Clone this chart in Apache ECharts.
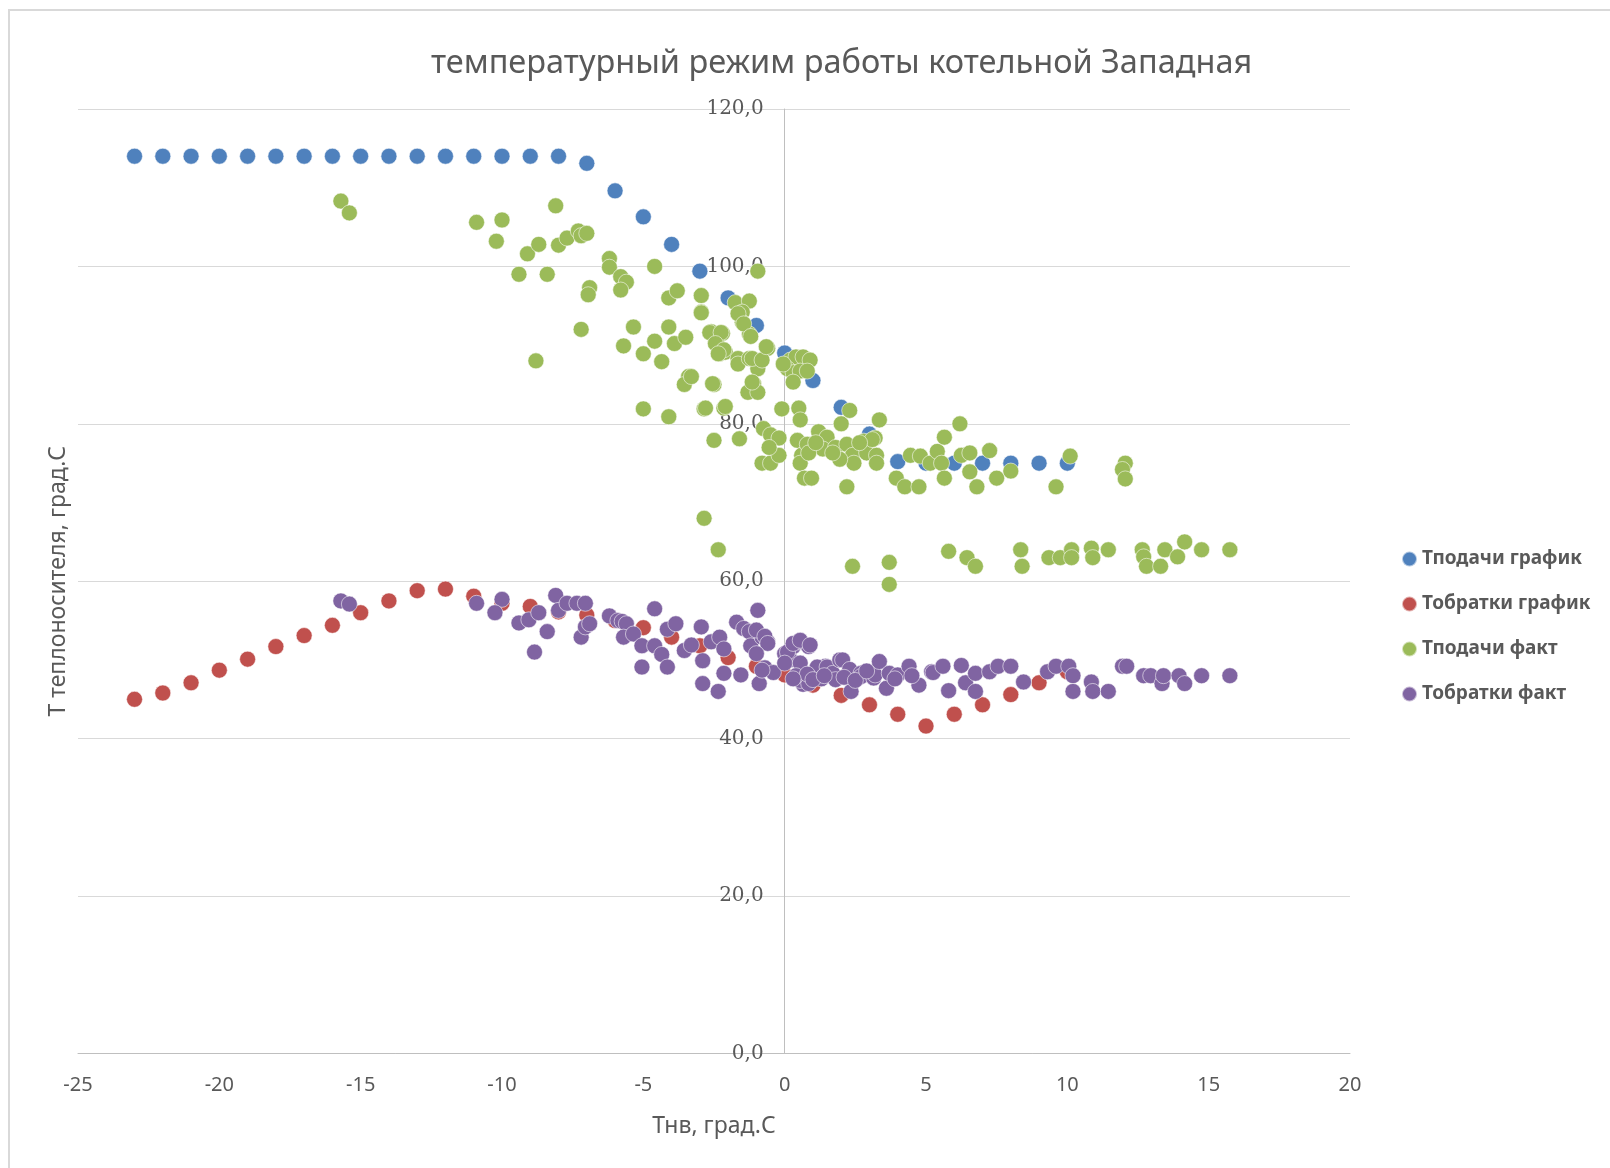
<!DOCTYPE html>
<html>
<head>
<meta charset="utf-8">
<script src="https://cdn.jsdelivr.net/npm/echarts@6/dist/echarts.min.js"></script>
<style>
  html, body { margin:0; padding:0; background:#fff; overflow:hidden; }
  #frame { position:absolute; left:8px; top:9px; width:1700px; height:1200px;
           border-left:2px solid #d9d9d9; border-top:2px solid #d9d9d9; box-sizing:border-box; }
  #c { position:absolute; left:0; top:0; width:1610px; height:1168px; }
</style>
</head>
<body>
<div id="frame"></div>
<div id="c"></div>
<script>
// ---- DATA ----
const titleText = 'температурный режим работы котельной Западная';
const xAxisName = 'Тнв, град.С';
const yAxisName = 'Т теплоносителя, град.С';
const seriesNames = ['Тподачи график', 'Тобратки график', 'Тподачи факт', 'Тобратки факт'];

// outdoor temperatures for the schedule series
const scheduleTemps = [-23,-22,-21,-20,-19,-18,-17,-16,-15,-14,-13,-12,-11,-10,-9,-8,-7,-6,-5,-4,-3,-2,-1,0,1,2,3,4,5,6,7,8,9,10];
// supply schedule
const supplySchedule = [114,114,114,114,114,114,114,114,114,114,114,114,114,114,114,114,113.1,109.6,106.3,102.8,99.4,96.0,92.5,89.0,85.5,82.1,78.7,75.2,75,75,75,75,75,75];
// return schedule
const returnSchedule = [45.0,45.8,47.1,48.7,50.1,51.7,53.1,54.4,56.0,57.5,58.8,59.0,58.1,57.2,56.8,56.1,55.7,55.0,54.1,52.9,51.8,50.3,49.2,48.1,46.8,45.5,44.3,43.1,41.6,43.1,44.3,45.6,47.1,48.5];

// actual supply [Tnv, T]
const supplyActual = [
 [-15.7,108.3],[-15.4,106.8],[-10.9,105.6],[-10.0,105.9],[-10.2,103.2],[-9.4,99.0],[-9.1,101.6],[-8.7,102.8],[-8.8,88.0],[-8.4,99.0],
 [-8.1,107.7],[-8.0,102.7],[-7.7,103.6],[-7.3,104.5],[-7.2,103.9],[-7.0,104.2],[-6.9,97.3],[-6.95,96.4],[-7.2,92.0],
 [-6.2,101.0],[-6.2,99.9],[-5.8,98.7],[-5.6,98.0],[-5.8,97.0],[-4.6,100.0],[-4.1,96.0],[-3.8,96.9],[-5.35,92.3],[-5.7,89.9],[-5.0,88.9],
 [-4.6,90.5],[-4.35,87.9],[-4.1,92.3],[-3.9,90.2],[-3.5,91.0],[-3.4,86.0],[-3.55,85.0],[-2.95,96.3],[-2.95,94.2],[-5.0,81.9],
 [-4.1,80.9],[-2.85,81.9],[-2.85,68.0],[-2.35,64.0],[-2.5,85.0],[-2.6,91.7],[-2.2,91.5],[-2.4,90.7],[-2.3,88.9],[-2.1,89.1],
 [-1.65,88.3],[-1.65,87.6],[-1.25,88.3],[-0.9,87.9],[-0.95,87.0],[-1.75,95.4],[-1.25,95.6],[-1.5,94.2],[-1.5,92.9],[-1.25,91.4],
 [-0.95,99.4],[-1.1,85.1],[-1.3,84.0],[-0.95,84.0],[-0.6,89.6],[-2.15,82.0],[-2.5,77.9],[-0.75,79.4],[-0.5,78.6],[-0.2,78.2],
 [-0.8,75.0],[-0.5,75.0],[-0.2,76.0],[-0.1,81.9],
 [0.05,87.2],[0.2,88.1],[0.4,88.5],[0.65,88.5],[0.9,88.1],[0.1,87.0],[0.3,86.5],[0.55,86.7],[0.8,86.7],[0.3,85.3],[-0.05,87.6],
 [0.5,82.0],[0.55,80.5],[0.45,77.9],[0.6,76.0],[0.55,75.0],[0.7,73.1],[0.95,73.1],[1.2,79.0],[1.5,78.3],[1.0,77.1],[1.35,76.8],
 [1.8,77.0],[2.0,80.0],[2.3,81.7],[2.2,72.0],[2.2,77.4],[2.4,76.0],[2.45,75.0],[2.8,77.8],[2.9,76.3],[3.2,78.2],[3.25,76.0],
 [3.25,75.0],[3.35,80.5],[3.1,78.0],[2.65,77.6],[1.95,75.5],[1.7,76.3],[0.8,77.4],[0.85,76.3],[-0.55,77.0],[1.1,77.6],
 [-2.95,94.1],[-1.65,94.0],[-1.45,92.7],[-1.2,91.1],[-2.65,91.6],[-2.25,91.6],[-2.45,90.2],[-2.15,89.4],[-2.35,88.9],[-1.15,88.3],
 [-0.8,88.1],[-0.65,89.8],[-2.55,85.1],[-1.15,85.3],[-3.3,86.0],[-2.8,82.0],[-2.1,82.2],[-1.6,78.1],
 [3.95,73.1],[4.25,72.0],[4.75,72.0],[4.45,76.0],[4.8,75.9],[5.15,75.0],[5.4,76.5],[5.55,75.0],[5.65,78.3],[5.65,73.1],[6.2,80.0],
 [6.25,76.0],[6.55,76.3],[6.55,73.9],[6.8,72.0],[7.25,76.6],[7.5,73.1],[8.0,74.0],[9.6,72.0],[10.1,75.9],[12.05,75.0],[11.95,74.2],[12.05,73.0],
 [2.4,61.9],[3.7,62.4],[3.7,59.6],[5.8,63.8],[6.45,63.0],[6.75,61.9],[8.35,64.0],[8.4,61.9],[9.35,63.0],[9.75,63.0],[10.15,64.0],
 [10.15,63.0],[10.85,64.2],[10.9,63.0],[11.45,64.0],[12.65,64.0],[12.7,63.1],[12.8,61.9],[13.3,61.9],[13.45,64.0],[13.9,63.1],
 [14.15,65.0],[14.75,64.0],[15.75,64.0]
];

// actual return [Tnv, T]
const returnActual = [
 [-15.7,57.5],[-15.4,57.1],[-10.9,57.2],[-10.0,57.7],[-10.25,56.0],[-9.4,54.7],[-9.05,55.1],[-8.7,56.0],[-8.85,51.0],[-8.4,53.6],
 [-8.1,58.2],[-8.0,56.3],[-7.7,57.2],[-7.35,57.2],[-7.05,57.2],[-7.2,52.9],[-7.05,54.2],[-6.9,54.6],
 [-6.2,55.6],[-5.9,55.0],[-5.75,54.9],[-5.6,54.6],[-5.7,52.9],[-5.35,53.3],[-5.05,51.8],[-5.05,49.1],[-4.6,56.5],[-4.6,51.8],
 [-4.35,50.7],[-4.15,53.9],[-4.15,49.1],[-3.85,54.6],[-3.55,51.2],[-3.3,51.9],[-2.95,54.2],[-2.9,49.9],[-2.9,47.0],[-2.6,52.3],
 [-2.3,52.9],[-2.35,46.0],[-2.15,48.3],[-2.15,51.4],[-1.7,54.8],[-1.55,48.1],[-1.45,54.0],[-1.25,53.6],[-1.2,51.8],[-0.95,56.3],
 [-0.8,52.9],[-0.6,52.3],[-0.9,47.0],[-0.7,49.0],[-0.4,48.4],[-1.0,53.8],[-0.7,53.0],[-0.6,52.1],[-1.0,50.8],[-0.8,48.7],
 [0.0,50.8],[0.3,51.7],[0.5,52.3],[0.85,51.7],[0.2,50.0],[0.65,48.4],[1.1,48.8],[0.65,46.9],[1.45,49.2],[0.1,51.0],[0.3,52.1],
 [0.55,52.5],[0.9,51.9],[0.0,49.6],[0.55,49.6],[0.55,47.4],[0.85,47.0],[1.15,49.1],[1.5,49.1],[1.7,48.3],[1.95,50.0],[2.05,50.0],
 [2.3,48.8],[2.35,46.0],[2.7,48.3],[2.7,47.9],[3.15,47.7],[3.2,48.1],[3.35,49.8],[3.6,46.4],[3.7,48.3],[4.0,48.1],[4.4,49.2],
 [4.75,46.8],[5.2,48.5],[5.25,48.4],[5.6,49.2],[5.8,46.1],[6.25,49.3],[6.4,47.1],[6.75,48.3],[6.75,46.0],[7.25,48.5],[7.55,49.2],
 [8.0,49.2],[8.45,47.2],[9.3,48.5],[9.6,49.2],[10.05,49.2],[10.2,48.0],[10.2,46.0],[10.85,47.2],[10.9,46.0],[11.45,46.0],[11.95,49.2],
 [12.1,49.2],[12.7,48.0],[12.95,48.0],[13.35,47.0],[13.4,48.0],[13.95,48.0],[14.15,47.0],[14.75,48.0],[15.75,48.0],
 [0.4,48.0],[0.8,48.2],[1.3,47.6],[1.0,47.5],[1.8,47.5],[2.1,47.8],[2.5,47.4],[1.4,48.0],[0.3,47.6],[2.9,48.6],[3.9,47.6],[4.5,48.0]
];

// ---- CHART ----
const colors = ['#4F81BD', '#C0504D', '#9BBB59', '#8064A2'];
const schedSupplyPts = scheduleTemps.map((t, i) => [t, supplySchedule[i]]);
const schedReturnPts = scheduleTemps.map((t, i) => [t, returnSchedule[i]]);
const grey = '#595959';
const sans = 'Noto Sans';

// grid geometry (layout, not data)
const W = 1610, H = 1168;
const gridL = 78, gridR = 260, gridT = 109, gridB = 114.5;
const xMin = -25, xMax = 20;
// shift the value-label axis so it sits on x = 0, like the original
const yLabelOffset = -((0 - xMin) / (xMax - xMin)) * (W - gridL - gridR);

const chart = echarts.init(document.getElementById('c'), null, {renderer: 'canvas', width: W, height: H});
const mk = (name, data, color) => ({
  name, type: 'scatter', data, symbol: 'circle', symbolSize: 16,
  itemStyle: {color, opacity: 1, borderColor: 'rgba(255,255,255,0.55)', borderWidth: 1},
  emphasis: {disabled: true}
});
chart.setOption({
  animation: false,
  color: colors,
  title: {
    text: titleText, left: 431, top: 47, padding: 0,
    textStyle: {fontFamily: sans, fontSize: 32.5, fontWeight: 'normal', color: grey}
  },
  legend: {
    orient: 'vertical', left: 1401, top: 549, padding: 0,
    itemWidth: 15, itemHeight: 15, itemGap: 25, icon: 'circle',
    textStyle: {fontFamily: sans, fontSize: 19, fontWeight: 'bold', color: grey, lineHeight: 20},
    data: seriesNames
  },
  grid: {left: gridL, right: gridR, top: gridT, bottom: gridB, containLabel: false},
  xAxis: {
    type: 'value', min: xMin, max: xMax, interval: 5,
    name: xAxisName, nameLocation: 'middle', nameGap: 61,
    nameTextStyle: {fontFamily: sans, fontSize: 23, color: grey},
    axisLine: {show: true, onZero: false, lineStyle: {color: '#bfbfbf', width: 1}},
    axisTick: {show: false},
    splitLine: {show: false},
    axisLabel: {fontFamily: sans, fontSize: 20, color: grey, margin: 22}
  },
  yAxis: [{
    type: 'value', min: 0, max: 120, interval: 20, position: 'left', offset: yLabelOffset,
    axisLine: {show: true, onZero: false, lineStyle: {color: '#bfbfbf', width: 1}},
    axisTick: {show: false},
    splitLine: {show: true, lineStyle: {color: '#d9d9d9', width: 1}},
    axisLabel: {fontFamily: 'DejaVu Serif', fontSize: 20, color: grey, margin: 21,
      formatter: v => v.toFixed(1).replace('.', ',')}
  }, {
    type: 'value', min: 0, max: 120, interval: 20, position: 'left',
    name: yAxisName, nameLocation: 'middle', nameGap: 8,
    nameTextStyle: {fontFamily: sans, fontSize: 23, color: grey},
    axisLine: {show: false, onZero: false},
    axisTick: {show: false}, axisLabel: {show: false}, splitLine: {show: false}
  }],
  series: [
    mk(seriesNames[0], schedSupplyPts, colors[0]),
    mk(seriesNames[1], schedReturnPts, colors[1]),
    mk(seriesNames[2], supplyActual, colors[2]),
    mk(seriesNames[3], returnActual, colors[3])
  ]
});
</script>
</body>
</html>
